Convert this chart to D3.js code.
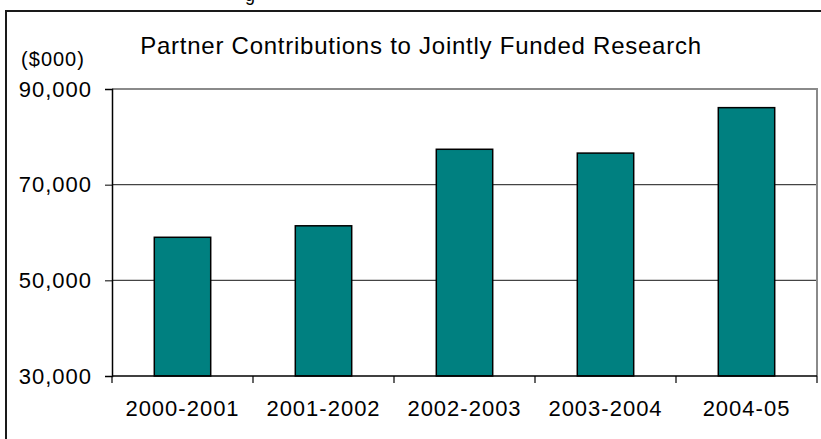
<!DOCTYPE html>
<html><head><meta charset="utf-8">
<script src="https://cdn.jsdelivr.net/npm/d3@7"></script>
<style>body{margin:0;background:#fff}svg{display:block}text{font-family:"Liberation Sans",Arial,sans-serif}</style>
</head><body>
<script>
const categories = ["2000-2001","2001-2002","2002-2003","2003-2004","2004-05"];
const values = [59000, 61400, 77400, 76600, 86100];
const yTicks = [30000, 50000, 70000, 90000];
const title = "Partner Contributions to Jointly Funded Research";
const unitLabel = "($000)";

const W = 821, H = 439;
const svg = d3.select("body").append("svg").attr("width", W).attr("height", H);

// outer frame (extends beyond right/bottom edges)
svg.append("rect").attr("x", 6).attr("y", 11).attr("width", 830).attr("height", 450)
  .attr("fill", "none").attr("stroke", "#1a1a1a").attr("stroke-width", 2);

// cut-off text fragment above frame
svg.append("text").attr("x", 250).attr("y", 1).attr("text-anchor", "middle")
  .attr("font-size", 18).text("g");

const x0 = 112, x1 = 817, yTop = 89, yBot = 376;
const x = d3.scaleBand().domain(categories).range([x0, x1]).paddingInner(0.6).paddingOuter(0.3);
const xb = d3.scaleBand().domain(categories).range([x0, x1]);
const y = d3.scaleLinear().domain([30000, 90000]).range([yBot, yTop]);

// gridlines
svg.append("g").selectAll("line").data(yTicks.filter(t => t > 30000 && t < 90000)).join("line")
  .attr("x1", x0).attr("x2", x1).attr("y1", d => y(d)).attr("y2", d => y(d))
  .attr("stroke", "#444").attr("stroke-width", 1.2);

// plot border top/right gray
svg.append("path").attr("d", `M${x0},${y(90000)}H${x1}V${yBot}`)
  .attr("fill", "none").attr("stroke", "#8a8a8a").attr("stroke-width", 2);

// bars
svg.append("g").selectAll("rect").data(values).join("rect")
  .attr("x", (d, i) => x(categories[i]))
  .attr("width", x.bandwidth())
  .attr("y", d => y(d))
  .attr("height", d => yBot - y(d))
  .attr("fill", "#008080").attr("stroke", "#000").attr("stroke-width", 1.5);

// y axis
const yAxis = svg.append("g").attr("transform", `translate(${x0},0)`)
  .call(d3.axisLeft(y).tickValues(yTicks).tickSize(7).tickPadding(13).tickFormat(d3.format(",")));
yAxis.select(".domain").attr("stroke", "#000").attr("stroke-width", 1.5);
yAxis.selectAll(".tick line").attr("stroke", "#000");
yAxis.selectAll("text").attr("font-size", 22).attr("letter-spacing", 1).attr("fill", "#000")
  .attr("font-family", '"Liberation Sans",Arial,sans-serif');

// x axis with ticks at category boundaries
const xAxisG = svg.append("g").attr("transform", `translate(0,${yBot})`);
xAxisG.append("line").attr("x1", x0).attr("x2", x1).attr("stroke", "#000").attr("stroke-width", 1.5);
const bounds = categories.map(c => xb(c)).concat([x1]);
xAxisG.selectAll("line.tk").data(bounds).join("line").attr("class", "tk")
  .attr("x1", d => d).attr("x2", d => d).attr("y1", 0).attr("y2", 7)
  .attr("stroke", "#000").attr("stroke-width", 1.2);
xAxisG.selectAll("text").data(categories).join("text")
  .attr("x", d => xb(d) + xb.bandwidth() / 2).attr("y", 40)
  .attr("text-anchor", "middle").attr("font-size", 22).attr("letter-spacing", 1)
  .text(d => d);

// title
svg.append("text").attr("x", 421).attr("y", 54).attr("text-anchor", "middle")
  .attr("font-size", 24).attr("letter-spacing", 0.75).text(title);
svg.append("text").attr("x", 53).attr("y", 66).attr("text-anchor", "middle")
  .attr("font-size", 20).attr("letter-spacing", 1).text(unitLabel);
</script>
</body></html>
